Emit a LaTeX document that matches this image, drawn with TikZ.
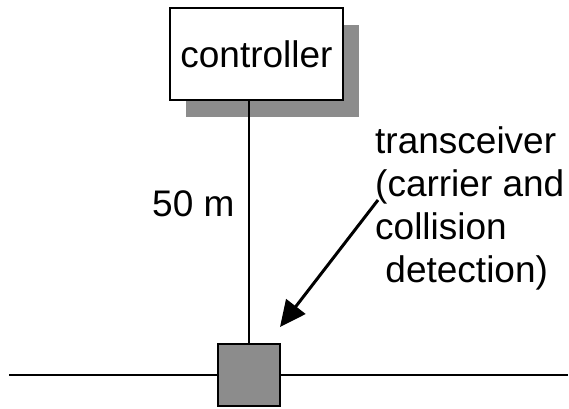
\documentclass[tikz,border=0pt]{standalone}
\usepackage{fontspec}
\setmainfont{Liberation Sans}
\usetikzlibrary{arrows.meta,shadows}
\definecolor{shadegray}{RGB}{140,140,140}
\begin{document}
\begin{tikzpicture}[x=1pt,y=-1pt,
  lbl/.style={font=\fontsize{37}{43}\selectfont, inner sep=0pt},
  ctrlbox/.style={draw=black, line width=2pt, fill=white, minimum width=173pt, minimum height=92pt,
    inner sep=0pt, font=\fontsize{37}{43}\selectfont,
    drop shadow={shadow xshift=16pt, shadow yshift=-17pt, fill=shadegray, opacity=1}},
  xcbox/.style={draw=black, line width=2pt, fill=shadegray, minimum width=62pt, minimum height=62pt, inner sep=0pt},
  wire/.style={line width=2pt},
  pointer/.style={line width=3pt, -{Triangle[length=26pt,width=24pt]}}
]
\useasboundingbox (0,0) rectangle (569,408);
\coordinate (busL) at (9,375);
\coordinate (busR) at (568,375);
\draw[wire] (busL) -- (busR);
\node[ctrlbox] (ctrl) at (256.5,54) {controller};
\node[xcbox] (xc) at (248.5,374.5) {};
\draw[wire] (xc.north |- ctrl.south) -- (xc.north);
\node[lbl, anchor=base west] (len) at (152,216) {50 m};
\node[lbl, anchor=base west, align=left] (xclbl) at (375,282) {transceiver\\(carrier and\\collision\\\ detection)};
\coordinate (arS) at (378,200);
\coordinate (arE) at (280,327);
\draw[pointer] (arS) -- (arE);
\end{tikzpicture}
\end{document}
